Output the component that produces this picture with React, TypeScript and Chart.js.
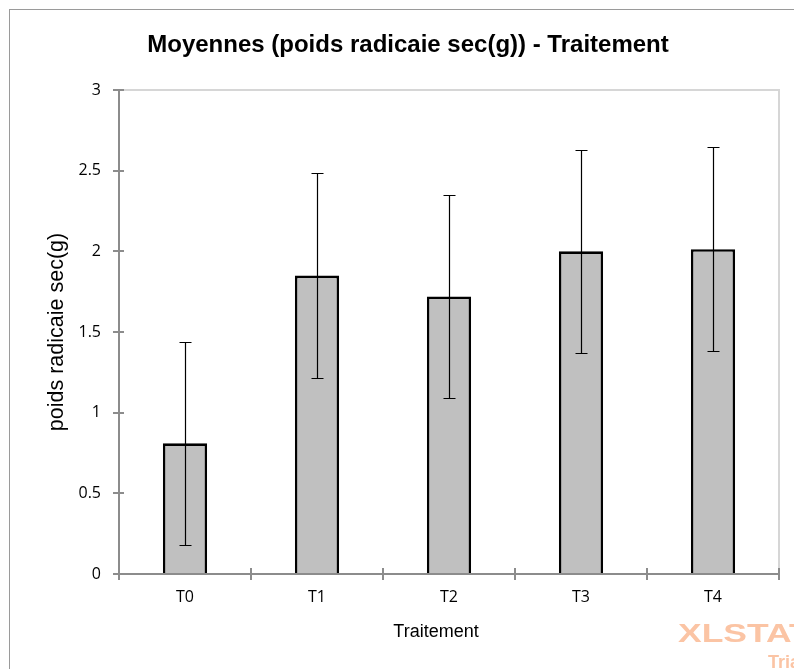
import React, { useEffect, useRef } from "react";
import { Chart, registerables } from "chart.js";

Chart.register(...registerables);

const categories = ["T0", "T1", "T2", "T3", "T4"];
const means = [0.81, 1.85, 1.72, 2.0, 2.013];
const errors = [0.63, 0.635, 0.63, 0.63, 0.632];
const yTicks = [0, 0.5, 1, 1.5, 2, 2.5, 3];
const titleText = "Moyennes (poids radicaie sec(g)) - Traitement";
const xTitleText = "Traitement";
const yTitleText = "poids radicaie sec(g)";

const ARIAL = "'Liberation Sans', Arial, sans-serif";
const TICKFONT = "'Open Sans', sans-serif";

const decor = {
  id: "decor",
  beforeDatasetsDraw(chart: any) {
    const { ctx, chartArea: a } = chart;
    ctx.save();
    ctx.strokeStyle = "#d6d6d6";
    ctx.lineWidth = 2;
    ctx.beginPath();
    ctx.moveTo(a.left, a.top);
    ctx.lineTo(a.right, a.top);
    ctx.lineTo(a.right, a.bottom);
    ctx.stroke();
    ctx.restore();
  },
  afterDatasetsDraw(chart: any) {
    const { ctx, chartArea: a } = chart;
    const x = chart.scales.x;
    const y = chart.scales.y;
    ctx.save();
    // axes
    ctx.strokeStyle = "#8c8c8c";
    ctx.lineWidth = 2;
    ctx.beginPath();
    ctx.moveTo(a.left, a.top);
    ctx.lineTo(a.left, a.bottom);
    ctx.lineTo(a.right, a.bottom);
    ctx.stroke();
    // y ticks (crossing)
    y.ticks.forEach((_t: any, i: number) => {
      const py = Math.round(y.getPixelForTick(i));
      ctx.beginPath();
      ctx.moveTo(a.left - 6, py);
      ctx.lineTo(a.left + 5, py);
      ctx.stroke();
    });
    // x ticks at category boundaries
    for (let i = 0; i <= categories.length; i++) {
      const px = Math.round(x.getPixelForValue(i - 0.5));
      ctx.beginPath();
      ctx.moveTo(px, a.bottom - 6);
      ctx.lineTo(px, a.bottom + 6);
      ctx.stroke();
    }
    // error bars
    ctx.strokeStyle = "#000";
    ctx.lineWidth = 1.2;
    means.forEach((m, i) => {
      const px = Math.round(x.getPixelForValue(i)) + 0.5;
      const top = Math.round(y.getPixelForValue(m + errors[i])) + 0.5;
      const bot = Math.round(y.getPixelForValue(m - errors[i])) + 0.5;
      ctx.beginPath();
      ctx.moveTo(px, top);
      ctx.lineTo(px, bot);
      ctx.moveTo(px - 6, top);
      ctx.lineTo(px + 6, top);
      ctx.moveTo(px - 6, bot);
      ctx.lineTo(px + 6, bot);
      ctx.stroke();
    });
    ctx.restore();
  },
  afterDraw(chart: any) {
    const { ctx } = chart;
    ctx.save();
    // main title
    ctx.fillStyle = "#000";
    ctx.font = `bold 24px ${ARIAL}`;
    ctx.textAlign = "center";
    ctx.textBaseline = "middle";
    ctx.fillText(titleText, 398, 35);
    // x axis title
    ctx.font = `18px ${ARIAL}`;
    ctx.fillText(xTitleText, 426, 622);
    // watermark
    ctx.fillStyle = "rgb(251,196,164)";
    ctx.textAlign = "left";
    ctx.textBaseline = "alphabetic";
    ctx.save();
    ctx.translate(668, 632);
    ctx.scale(1.42, 1);
    ctx.font = `bold 25px ${ARIAL}`;
    ctx.fillText("XLSTAT", 0, 0);
    ctx.restore();
    ctx.save();
    ctx.translate(758, 658);
    ctx.scale(0.95, 1);
    ctx.font = `bold 19px ${ARIAL}`;
    ctx.fillText("Tria", 0, 0);
    ctx.restore();
    ctx.restore();
  },
};

export default function App() {
  const ref = useRef<HTMLCanvasElement | null>(null);

  useEffect(() => {
    document.documentElement.style.overflow = "hidden";
    document.body.style.overflow = "hidden";
    const canvas = ref.current;
    if (!canvas) return;
    const chart = new Chart(canvas, {
      type: "bar",
      data: {
        labels: categories,
        datasets: [
          {
            data: means,
            backgroundColor: "#c0c0c0",
            borderColor: "#000000",
            borderWidth: 2.6,
            barPercentage: 0.335,
            categoryPercentage: 1,
          },
        ],
      },
      options: {
        animation: false,
        responsive: false,
        devicePixelRatio: 1,
        layout: { padding: { left: 0, right: 23, top: 80, bottom: 0 } },
        plugins: {
          legend: { display: false },
          tooltip: { enabled: false },
          title: { display: false },
        },
        scales: {
          x: {
            type: "category",
            grid: { display: false, drawTicks: false, tickLength: 0 },
            border: { display: false },
            ticks: { color: "#000", font: { family: TICKFONT, size: 16 }, padding: 14 },
            afterFit: (s: any) => {
              s.height = 96;
            },
          },
          y: {
            type: "linear",
            min: 0,
            max: 3,
            grid: { display: false, drawTicks: false, tickLength: 0 },
            border: { display: false },
            afterBuildTicks: (s: any) => {
              s.ticks = yTicks.map((v) => ({ value: v }));
            },
            ticks: {
              color: "#000",
              font: { family: TICKFONT, size: 16 },
              padding: 18,
              callback: (v: any) => String(v),
            },
            title: {
              display: true,
              text: yTitleText,
              color: "#000",
              font: { family: ARIAL, size: 21.5, lineHeight: 1.2 },
              padding: { top: 34, bottom: 0 },
            },
            afterFit: (s: any) => {
              s.width = 109;
            },
          },
        },
      },
      plugins: [decor],
    } as any);
    return () => chart.destroy();
  }, []);

  return (
    <div
      style={{
        position: "relative",
        left: 1,
        top: 1,
        width: 792,
        height: 660,
        borderLeft: "1px solid #9a9a9a",
        borderTop: "1px solid #9a9a9a",
        background: "#fff",
      }}
    >
      <canvas ref={ref} width={792} height={660} style={{ display: "block" }} />
    </div>
  );
}
